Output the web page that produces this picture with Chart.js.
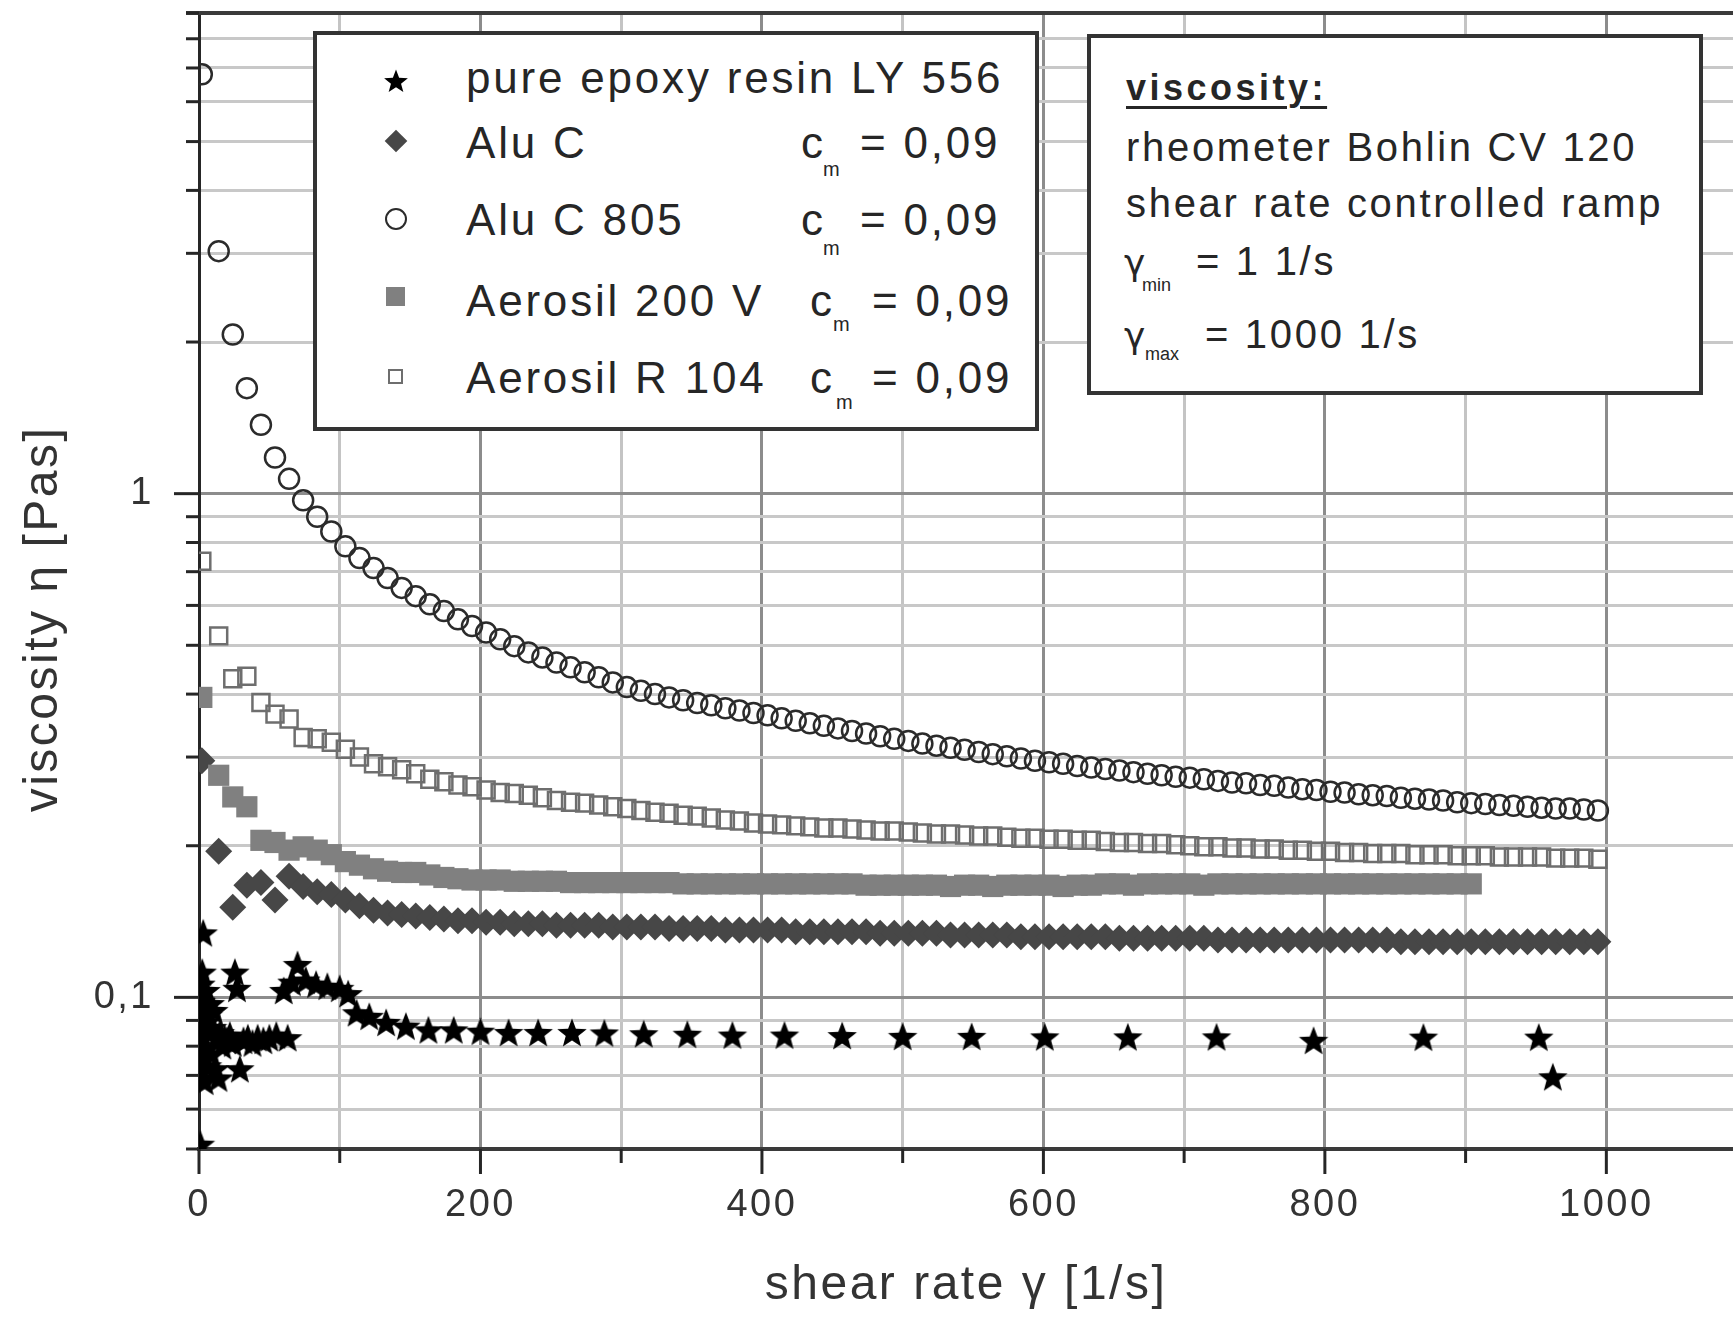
<!DOCTYPE html>
<html><head><meta charset="utf-8">
<script src="https://cdn.jsdelivr.net/npm/chart.js@4.4.1/dist/chart.umd.min.js"></script>
<style>
html,body{margin:0;padding:0;background:#fff;}
#wrap{position:relative;width:1733px;height:1322px;overflow:hidden;background:#fff;}
#c{position:absolute;left:0;top:0;}
.box{position:absolute;background:#fff;border:4px solid #333;box-sizing:border-box;}
.t{position:absolute;white-space:nowrap;font-family:"Liberation Sans",Arial,sans-serif;color:#262626;line-height:1;}
.lg{font-size:44px;letter-spacing:2.8px;}
.sub{font-size:20px;letter-spacing:0;}
.inf{font-size:40px;letter-spacing:2.7px;}
.g{font-family:"DejaVu Sans",sans-serif;font-size:36px;letter-spacing:0;}
.sym{position:absolute;box-sizing:border-box;}
</style></head><body>
<div id="wrap">
<canvas id="c" width="1733" height="1322"></canvas>

<div class="box" style="left:313px;top:31px;width:726px;height:400px"></div>
<canvas id="lgStar" class="sym" width="28" height="28" style="left:382px;top:67px"></canvas>
<div class="sym" style="left:388px;top:133px;width:16px;height:16px;background:#474747;transform:rotate(45deg)"></div>
<div class="sym" style="left:385px;top:208px;width:22px;height:22px;border:2.5px solid #2b2b2b;border-radius:50%"></div>
<div class="sym" style="left:386px;top:287px;width:19px;height:19px;background:#808080"></div>
<div class="sym" style="left:388px;top:369px;width:15px;height:15px;border:2.5px solid #6e6e6e"></div>

<div class="t lg" style="left:466px;top:56px">pure epoxy resin LY 556</div>
<div class="t lg" style="left:466px;top:121px">Alu C</div>
<div class="t lg" style="left:801px;top:121px">c</div>
<div class="t sub" style="left:823px;top:159px">m</div>
<div class="t lg" style="left:860px;top:121px">= 0,09</div>
<div class="t lg" style="left:466px;top:198px">Alu C 805</div>
<div class="t lg" style="left:801px;top:198px">c</div>
<div class="t sub" style="left:823px;top:238px">m</div>
<div class="t lg" style="left:860px;top:198px">= 0,09</div>
<div class="t lg" style="left:466px;top:279px">Aerosil 200 V</div>
<div class="t lg" style="left:810px;top:279px">c</div>
<div class="t sub" style="left:833px;top:314px">m</div>
<div class="t lg" style="left:872px;top:279px">= 0,09</div>
<div class="t lg" style="left:466px;top:356px">Aerosil R 104</div>
<div class="t lg" style="left:810px;top:356px">c</div>
<div class="t sub" style="left:836px;top:392px">m</div>
<div class="t lg" style="left:872px;top:356px">= 0,09</div>

<div class="box" style="left:1087px;top:34px;width:616px;height:361px"></div>
<div class="t" style="left:1126px;top:70px;font-size:36px;font-weight:bold;letter-spacing:3.5px;text-decoration:underline;text-decoration-thickness:3px;text-underline-offset:6px">viscosity:</div>
<div class="t inf" style="left:1126px;top:127px">rheometer Bohlin CV 120</div>
<div class="t inf" style="left:1126px;top:183px">shear rate controlled ramp</div>
<div class="t g" style="left:1124px;top:245px">γ</div>
<div class="t" style="left:1142px;top:276px;font-size:18px">min</div>
<div class="t inf" style="left:1196px;top:241px">= 1 1/s</div>
<div class="t g" style="left:1124px;top:318px">γ</div>
<div class="t" style="left:1145px;top:345px;font-size:18px">max</div>
<div class="t inf" style="left:1205px;top:314px">= 1000 1/s</div>
</div>

<script>
// ---------- data ----------
const rampX = [2,14,24,34,44,54,64,74,84,94,104,114,124,134,144,154,164,174,184,194,
204,214,224,234,244,254,264,274,284,294,304,314,324,334,344,354,364,374,384,394,
404,414,424,434,444,454,464,474,484,494,504,514,524,534,544,554,564,574,584,594,
604,614,624,634,644,654,664,674,684,694,704,714,724,734,744,754,764,774,784,794,
804,814,824,834,844,854,864,874,884,894,904,914,924,934,944,954,964,974,984,994];

const aluC805Y = [6.8,3.03,2.07,1.62,1.37,1.18,1.07,0.97,0.90,0.841,
0.786,0.745,0.712,0.68,0.65,0.626,0.603,0.585,0.563,0.546,
0.53,0.514,0.498,0.484,0.473,0.462,0.452,0.442,0.432,0.422,
0.413,0.406,0.40,0.394,0.389,0.384,0.38,0.375,0.371,0.367,
0.363,0.358,0.354,0.35,0.346,0.342,0.338,0.334,0.33,0.326,
0.323,0.319,0.316,0.313,0.31,0.307,0.304,0.301,0.298,0.295,
0.293,0.291,0.288,0.286,0.284,0.282,0.28,0.278,0.276,0.274,
0.273,0.271,0.269,0.267,0.266,0.264,0.263,0.261,0.259,0.258,
0.256,0.255,0.253,0.252,0.251,0.249,0.248,0.247,0.246,0.244,
0.243,0.242,0.241,0.24,0.239,0.238,0.237,0.237,0.236,0.235];

const aerosilR104Y = [0.734,0.522,0.429,0.434,0.385,0.365,0.357,0.328,0.326,0.321,
0.311,0.300,0.291,0.287,0.283,0.278,0.271,0.268,0.264,0.262,
0.258,0.255,0.254,0.252,0.249,0.246,0.244,0.243,0.241,0.239,
0.237,0.235,0.233,0.232,0.230,0.229,0.227,0.225,0.224,0.222,
0.221,0.220,0.219,0.218,0.217,0.217,0.216,0.215,0.214,0.214,
0.213,0.212,0.211,0.211,0.210,0.209,0.209,0.208,0.207,0.207,
0.206,0.206,0.205,0.205,0.204,0.203,0.203,0.202,0.202,0.201,
0.200,0.199,0.199,0.198,0.198,0.197,0.197,0.196,0.196,0.195,
0.195,0.194,0.194,0.193,0.193,0.193,0.192,0.192,0.192,0.191,
0.191,0.191,0.190,0.190,0.190,0.190,0.189,0.189,0.189,0.188];

const aerosil200VY = [0.394,0.276,0.25,0.239,0.205,0.203,0.196,0.199,0.196,0.192,
0.186,0.183,0.180,0.178,0.177,0.177,0.175,0.173,0.172,0.171,
0.171,0.171,0.170,0.170,0.170,0.170,0.169,0.169,0.169,0.169,
0.169,0.169,0.169,0.169,0.168,0.168,0.168,0.168,0.168,0.168,
0.168,0.168,0.168,0.168,0.168,0.168,0.168,0.167,0.167,0.167,
0.167,0.167,0.167,0.166,0.167,0.167,0.166,0.167,0.167,0.167,
0.167,0.166,0.167,0.167,0.168,0.168,0.167,0.168,0.168,0.168,
0.168,0.167,0.168,0.168,0.168,0.168,0.168,0.168,0.168,0.168,
0.168,0.168,0.168,0.168,0.168,0.168,0.168,0.168,0.168,0.168,
0.168];

const aluCY = [0.295,0.195,0.151,0.167,0.169,0.156,0.174,0.166,0.162,0.160,
0.156,0.152,0.149,0.147,0.146,0.145,0.144,0.143,0.142,0.142,
0.141,0.141,0.140,0.140,0.140,0.139,0.139,0.139,0.139,0.138,
0.138,0.138,0.138,0.137,0.137,0.137,0.137,0.136,0.136,0.136,
0.136,0.136,0.135,0.135,0.135,0.135,0.135,0.135,0.134,0.134,
0.134,0.134,0.134,0.133,0.133,0.133,0.133,0.133,0.132,0.132,
0.132,0.132,0.132,0.132,0.132,0.131,0.131,0.131,0.131,0.131,
0.131,0.131,0.130,0.130,0.130,0.130,0.130,0.130,0.130,0.130,
0.130,0.130,0.130,0.130,0.130,0.129,0.129,0.129,0.129,0.129,
0.129,0.129,0.129,0.129,0.129,0.129,0.129,0.129,0.129,0.129];

const epoxyX = [1,1,1.2,1.4,1.6,1.8,2,2.3,2.6,3,3.3,3.6,4,4.5,5,5.5,6,6.6,7.2,8,
8.8,9.6,10.5,11.5,12.6,13.8,15.1,16.6,18.2,20,21.9,24,25.5,27,29,31.6,34.7,38,41.7,45.7,
50,54.9,60.2,63,66,70,75.9,83.2,91.2,100,106,112,121,133,147,163,181,200,220,241,
265,288,316,347,379,416,457,500,549,601,660,723,792,870,952,962];
const epoxyY = [0.051,0.079,0.092,0.106,0.098,0.071,0.088,0.112,0.083,0.134,
0.076,0.095,0.068,0.089,0.103,0.079,0.073,0.092,0.085,0.097,
0.077,0.087,0.094,0.072,0.083,0.069,0.085,0.08,0.083,0.082,
0.084,0.081,0.112,0.104,0.072,0.082,0.083,0.081,0.083,0.082,
0.083,0.084,0.103,0.083,0.107,0.116,0.108,0.106,0.105,0.104,
0.1015,0.093,0.0915,0.089,0.0875,0.086,0.086,0.0855,0.085,0.085,
0.085,0.0848,0.0845,0.0843,0.084,0.084,0.0838,0.0835,0.0835,0.0833,
0.0833,0.0833,0.082,0.0832,0.0832,0.0694];

const xTicks = [0,100,200,300,400,500,600,700,800,900,1000];
const xTickLabels = ['0','','200','','400','','600','','800','','1000'];
const yTicks = [0.05,0.06,0.07,0.08,0.09,0.1,0.2,0.3,0.4,0.5,0.6,0.7,0.8,0.9,1,2,3,4,5,6,7,8,9];
const yTickLabels = ['','','','','','0,1','','','','','','','','','1','','','','','','','',''];

const xTitle = 'shear rate γ [1/s]';
const yTitle = 'viscosity η [Pas]';

// ---------- marker ----------
function drawStar(cv, rOut, rIn, color){
  const g = cv.getContext('2d'); const s = cv.width;
  g.fillStyle = color; g.beginPath();
  for (let k = 0; k < 10; k++) {
    const r = k % 2 ? rIn : rOut;
    const a = -Math.PI / 2 + k * Math.PI / 5;
    const px = s / 2 + r * Math.cos(a), py = s / 2 + 1 + r * Math.sin(a);
    if (k) g.lineTo(px, py); else g.moveTo(px, py);
  }
  g.closePath(); g.fill();
  return cv;
}
const starImg = document.createElement('canvas'); starImg.width = 34; starImg.height = 34;
drawStar(starImg, 15.5, 6.6, '#000');
drawStar(document.getElementById('lgStar'), 12.5, 5.3, '#000');

const pts = (xs, ys) => ys.map((v, i) => ({x: xs[i], y: v}));
const FONT = '"Liberation Sans", Arial, sans-serif';
const zeroPad = s => { s.paddingTop = 0; s.paddingBottom = 0; s.paddingLeft = 0; s.paddingRight = 0; };

const decor = {
  id: 'decor',
  beforeDraw(chart){ chart.ctx.letterSpacing = '2.5px'; },
  afterDraw(chart){
    const {ctx, chartArea: a, scales: {x, y}} = chart;
    ctx.save();
    ctx.letterSpacing = '0px';
    ctx.lineCap = 'butt';
    ctx.strokeStyle = '#3a3a3a'; ctx.lineWidth = 4;
    ctx.beginPath(); ctx.moveTo(186, a.top); ctx.lineTo(a.right, a.top); ctx.stroke();
    ctx.strokeStyle = '#262626'; ctx.lineWidth = 3;
    yTicks.forEach((v, i) => {
      const py = y.getPixelForValue(v);
      const len = yTickLabels[i] ? 25 : 13;
      ctx.beginPath(); ctx.moveTo(a.left - len, py); ctx.lineTo(a.left, py); ctx.stroke();
    });
    xTicks.forEach((v, i) => {
      const px = x.getPixelForValue(v);
      const len = xTickLabels[i] ? 25 : 14;
      ctx.beginPath(); ctx.moveTo(px, a.bottom); ctx.lineTo(px, a.bottom + len); ctx.stroke();
    });
    ctx.letterSpacing = '2.5px';
    ctx.font = '48px ' + FONT; ctx.fillStyle = '#333';
    ctx.translate(44, 619); ctx.rotate(-Math.PI / 2);
    ctx.textAlign = 'center'; ctx.textBaseline = 'middle';
    ctx.fillText(yTitle, 0, 0);
    ctx.restore();
  }
};

new Chart(document.getElementById('c'), {
  type: 'scatter',
  data: { datasets: [
    { label: 'pure epoxy resin LY 556', data: pts(epoxyX, epoxyY), pointStyle: starImg, radius: 16, order: 0, clip: 0 },
    { label: 'Aerosil 200 V', data: pts(rampX, aerosil200VY), pointStyle: 'rect', radius: 15, backgroundColor: '#808080', borderColor: '#808080', borderWidth: 0, order: 1, clip: 0 },
    { label: 'Alu C', data: pts(rampX, aluCY), pointStyle: 'rectRot', radius: 13.5, backgroundColor: '#474747', borderColor: '#474747', borderWidth: 0, order: 2, clip: 0 },
    { label: 'Aerosil R 104', data: pts(rampX, aerosilR104Y), pointStyle: 'rect', radius: 12, backgroundColor: 'rgba(255,255,255,0)', borderColor: '#6e6e6e', borderWidth: 2.5, order: 3, clip: 0 },
    { label: 'Alu C 805', data: pts(rampX, aluC805Y), pointStyle: 'circle', radius: 10, backgroundColor: 'rgba(255,255,255,0)', borderColor: '#2b2b2b', borderWidth: 2.5, order: 4, clip: 0 }
  ]},
  options: {
    responsive: false, animation: false, devicePixelRatio: 1, events: [],
    layout: { autoPadding: false, padding: { top: 13, right: 0, bottom: 0, left: 0 } },
    plugins: { legend: { display: false }, tooltip: { enabled: false } },
    scales: {
      x: {
        type: 'linear', min: 0, max: 1090,
        afterFit: s => { s.height = 173; zeroPad(s); },
        afterBuildTicks: s => { s.ticks = xTicks.map(v => ({ value: v })); },
        ticks: { autoSkip: false, maxRotation: 0, minRotation: 0, padding: 34, color: '#333',
                 font: { family: FONT, size: 38 }, callback: (v, i) => xTickLabels[i] },
        grid: { drawTicks: false, lineWidth: 3,
                color: c => (c.index % 2 === 0) ? '#8c8c8c' : '#c4c4c4' },
        border: { display: true, color: '#3a3a3a', width: 4 },
        title: { display: true, text: xTitle, color: '#333', font: { family: FONT, size: 48 },
                 padding: { top: 0, bottom: 7 } }
      },
      y: {
        type: 'logarithmic', min: 0.05, max: 9,
        afterFit: s => { s.width = 199; zeroPad(s); },
        afterBuildTicks: s => { s.ticks = yTicks.map(v => ({ value: v })); },
        ticks: { autoSkip: false, padding: 45, color: '#333',
                 font: { family: FONT, size: 38 }, callback: (v, i) => yTickLabels[i] },
        grid: { drawTicks: false, lineWidth: 3,
                color: c => (yTickLabels[c.index]) ? '#8c8c8c' : '#c8c8c8' },
        border: { display: true, color: '#262626', width: 3 }
      }
    }
  },
  plugins: [decor]
});
</script>
</body></html>
